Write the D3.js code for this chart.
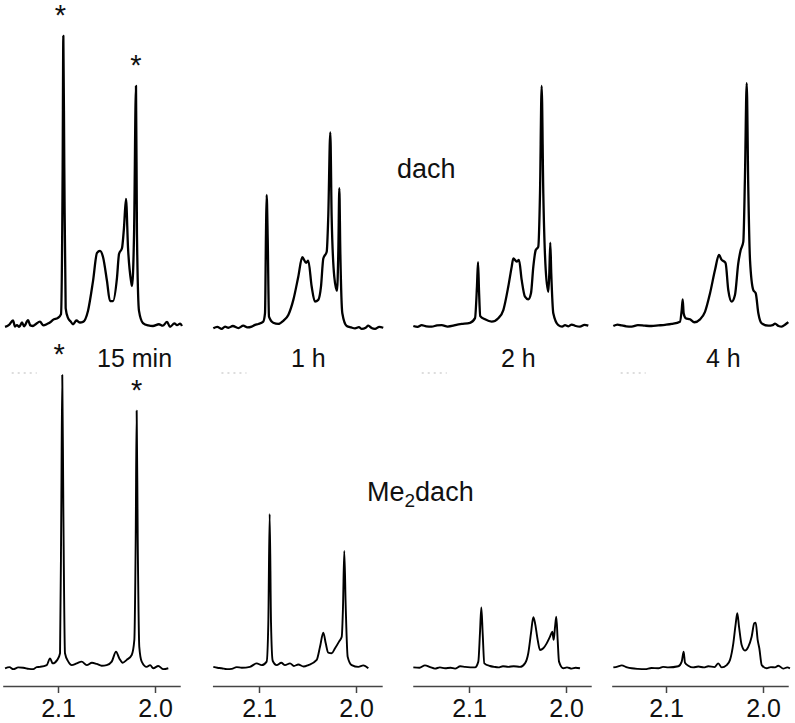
<!DOCTYPE html>
<html>
<head>
<meta charset="utf-8">
<script src="https://cdn.jsdelivr.net/npm/d3@7/dist/d3.min.js"></script>
<style>
  html, body { margin: 0; padding: 0; background: #fff; }
  svg { display: block; }
  text { font-family: "Liberation Sans", Arial, sans-serif; fill: #111; }
</style>
</head>
<body>
<div id="chart"></div>
<script>
// ---------------- DATA ----------------
const timeLabels = ["15 min", "1 h", "2 h", "4 h"];
const rowLabels = ["dach", "Me2dach"];
const tickValues = [2.1, 2.0];
const axisStart = [2.157, 2.148, 2.158, 2.156];   // ppm at left end of each axis
const axisEnd = [1.974, 1.973, 1.974, 1.974];     // ppm at right end of each axis

// dach row: [ppm, intensity]
const dach15min = [[2.1546,-0.3],[2.1505,0.4],[2.1464,1.9],[2.1443,-0.2],[2.1423,0.3],[2.1400,-0.3],[2.1371,1.2],[2.1350,-0.1],[2.1309,2.0],[2.1285,0.2],[2.1258,0],[2.1230,0.6],[2.1186,1.5],[2.1150,0.2],[2.1113,0.7],[2.1080,1.3],[2.1052,2.1],[2.1000,2.8],[2.0969,4.1],[2.0952,54.5],[2.0945,100],[2.0935,54.5],[2.0921,6.2],[2.0897,2.8],[2.0870,1.6],[2.0845,0.6],[2.0810,1.9],[2.0773,1.2],[2.0742,1.4],[2.0691,5.2],[2.0639,15.5],[2.0598,25.2],[2.0567,25.9],[2.0536,23.8],[2.0495,15.5],[2.0464,8.6],[2.0433,8.6],[2.0392,16.6],[2.0371,24.8],[2.0340,26.9],[2.0320,33.8],[2.0299,43.8],[2.0278,26.9],[2.0247,15.5],[2.0237,13.8],[2.0216,31.7],[2.0196,82.8],[2.0186,31.7],[2.0165,5.2],[2.0124,1.0],[2.0070,0.2],[2.0021,0],[1.9960,0.6],[1.9920,0.1],[1.9876,1.4],[1.9845,-0.3],[1.9800,0.9],[1.9773,0.3],[1.9740,0.8],[1.9722,0]];
const dach1h = [[2.1471,-0.8],[2.1430,-0.3],[2.1385,-1.0],[2.1350,-0.2],[2.1316,-0.6],[2.1270,0],[2.1213,-0.7],[2.1162,0.1],[2.1120,-0.5],[2.1075,-0.2],[2.1040,0.4],[2.1007,0.7],[2.0956,1.5],[2.0938,4.4],[2.0928,32.0],[2.0921,45.2],[2.0910,29.7],[2.0897,3.2],[2.0853,1.1],[2.0801,0.7],[2.0749,1.8],[2.0698,3.8],[2.0646,9.0],[2.0595,17.0],[2.0554,23.7],[2.0515,21.8],[2.0492,22.5],[2.0457,13.6],[2.0423,8.4],[2.0389,9.0],[2.0361,13.6],[2.0337,23.3],[2.0302,25.6],[2.0286,37.7],[2.0265,66.8],[2.0251,37.7],[2.0224,17.0],[2.0196,12.1],[2.0182,26.2],[2.0172,47.5],[2.0162,26.2],[2.0141,4.4],[2.0096,0],[2.0050,-0.5],[2.0010,-0.8],[1.9970,-0.4],[1.9941,-1.0],[1.9900,-0.6],[1.9873,0.1],[1.9840,-0.7],[1.9804,-1.0],[1.9760,-0.3],[1.9719,-0.6]];
const dach2h = [[2.1574,0],[2.1530,-0.3],[2.1488,0.3],[2.1440,-0.1],[2.1385,-0.2],[2.1330,0.2],[2.1281,0.3],[2.1220,-0.2],[2.1162,0.1],[2.1120,0.5],[2.1075,0.7],[2.0990,1.1],[2.0938,2.7],[2.0918,13.6],[2.0907,22.0],[2.0897,12.4],[2.0884,3.4],[2.0835,2.3],[2.0766,1.5],[2.0698,2.7],[2.0646,5.5],[2.0595,13.6],[2.0560,20.4],[2.0543,23.3],[2.0508,22.2],[2.0485,22.8],[2.0457,15.9],[2.0423,10.1],[2.0389,9.2],[2.0361,11.3],[2.0337,20.4],[2.0312,26.2],[2.0286,27.3],[2.0268,45.8],[2.0251,82.8],[2.0234,45.8],[2.0209,19.3],[2.0182,11.8],[2.0172,18.2],[2.0162,28.7],[2.0152,18.2],[2.0131,4.4],[2.0079,0.3],[2.0040,-0.2],[2.0010,0.3],[1.9975,-0.1],[1.9941,0.5],[1.9900,0],[1.9856,-0.2],[1.9810,0.4],[1.9770,0.1]];
const dach4h = [[2.1543,0],[2.1500,0.5],[2.1457,0.2],[2.1410,-0.1],[2.1354,-0.2],[2.1290,0.3],[2.1216,0.1],[2.1150,0],[2.1079,0.2],[2.1010,0.4],[2.0941,0.7],[2.0856,1.5],[2.0838,5.5],[2.0828,9.2],[2.0818,4.4],[2.0797,2.7],[2.0753,2.3],[2.0708,1.3],[2.0649,2.3],[2.0598,4.9],[2.0546,11.3],[2.0495,19.3],[2.0454,24.5],[2.0426,22.8],[2.0399,22.2],[2.0385,21.6],[2.0358,12.4],[2.0323,8.4],[2.0289,10.7],[2.0255,21.6],[2.0230,26.2],[2.0203,29.1],[2.0186,51.5],[2.0168,83.7],[2.0152,48.0],[2.0134,22.8],[2.0100,12.4],[2.0075,11.3],[2.0048,4.4],[2.0013,0.9],[1.9945,0.1],[1.9900,0.3],[1.9876,0.8],[1.9840,0],[1.9807,-0.2],[1.9770,0.5],[1.9739,1.3]];

// Me2dach row: [ppm, intensity]
const me15min = [[2.1546,-0.1],[2.1500,0.3],[2.1461,-0.4],[2.1410,0.2],[2.1358,0.1],[2.1300,-0.3],[2.1255,-0.4],[2.1220,0.3],[2.1186,0.4],[2.1116,1.0],[2.1082,3.3],[2.1055,1.6],[2.1007,2.8],[2.0979,5.1],[2.0966,55.6],[2.0956,101],[2.0945,55.6],[2.0928,5.1],[2.0894,2.2],[2.0859,1.0],[2.0807,1.6],[2.0756,2.2],[2.0704,1.0],[2.0650,1.8],[2.0601,1.4],[2.0550,0.8],[2.0498,1.0],[2.0446,2.2],[2.0402,5.6],[2.0368,3.3],[2.0333,1.8],[2.0292,2.8],[2.0240,4.5],[2.0213,9.7],[2.0199,44.1],[2.0189,88.7],[2.0178,44.1],[2.0162,7.3],[2.0137,2.2],[2.0086,0.4],[2.0050,1.0],[2.0018,-0.1],[1.9966,0.7],[1.9914,-0.4],[1.9863,-0.1]];
const me1h = [[2.1471,0.4],[2.1430,0.1],[2.1385,-0.1],[2.1330,-0.4],[2.1281,-0.3],[2.1230,0.3],[2.1178,0.1],[2.1093,0.4],[2.1024,1.6],[2.0972,1.0],[2.0921,2.2],[2.0904,15.4],[2.0890,53.1],[2.0876,15.4],[2.0859,2.5],[2.0818,1.0],[2.0770,1.8],[2.0732,1.0],[2.0680,1.6],[2.0640,0.7],[2.0595,1.2],[2.0540,0.5],[2.0492,1.0],[2.0405,2.8],[2.0371,7.3],[2.0337,12.2],[2.0312,8.5],[2.0286,5.3],[2.0251,5.1],[2.0216,6.8],[2.0175,9.1],[2.0147,10.8],[2.0134,21.1],[2.0121,40.4],[2.0106,21.1],[2.0086,3.9],[2.0044,1.0],[1.9976,0.4],[1.9925,0.9],[1.9873,-0.1]];
const me2h = [[2.1574,0.2],[2.1510,0.1],[2.1454,0.9],[2.1400,0.3],[2.1351,-0.2],[2.1300,0.2],[2.1247,-0.1],[2.1190,0.1],[2.1144,-0.2],[2.1090,0.6],[2.1041,0.4],[2.0938,0.2],[2.0904,2.2],[2.0887,12.0],[2.0873,20.9],[2.0859,12.0],[2.0842,1.6],[2.0784,0.7],[2.0740,0.4],[2.0698,0.2],[2.0650,0.6],[2.0595,0.4],[2.0540,0.6],[2.0474,0.4],[2.0423,1.6],[2.0389,5.1],[2.0361,12.0],[2.0337,17.5],[2.0320,15.6],[2.0292,9.7],[2.0268,6.2],[2.0234,6.8],[2.0199,8.5],[2.0165,10.8],[2.0141,12.5],[2.0127,9.7],[2.0113,14.2],[2.0100,17.7],[2.0086,9.7],[2.0072,2.2],[2.0028,-0.1],[1.9990,0.2],[1.9941,-0.2],[1.9900,0.1],[1.9856,-0.1]];
const me4h = [[2.1543,0.2],[2.1500,0.5],[2.1457,0.9],[2.1400,0.2],[2.1354,-0.1],[2.1290,-0.3],[2.1216,-0.4],[2.1150,0],[2.1079,-0.1],[2.1030,0.4],[2.0976,0.2],[2.0873,0.6],[2.0838,2.2],[2.0818,5.6],[2.0804,1.8],[2.0770,0.8],[2.0720,0.2],[2.0667,0.5],[2.0610,0.2],[2.0564,0.6],[2.0500,0.3],[2.0461,1.6],[2.0426,0.2],[2.0374,1.0],[2.0340,2.8],[2.0306,8.5],[2.0281,15.4],[2.0265,18.9],[2.0247,14.2],[2.0220,7.9],[2.0186,6.0],[2.0152,7.3],[2.0117,10.8],[2.0090,15.4],[2.0075,15.6],[2.0055,9.7],[2.0038,6.8],[2.0013,1.0],[1.9962,-0.1],[1.9920,0.3],[1.9876,0.2],[1.9842,0.8],[1.9791,-0.2],[1.9750,0.2],[1.9722,-0.1]];

// asterisk-marked peaks: [row, panel, ppm, intensity]
const starredPeaks = [[0,0,2.0945,100],[0,0,2.0196,82.8],[1,0,2.0956,101],[1,0,2.0189,88.7]];

const spectra = [[dach15min, dach1h, dach2h, dach4h], [me15min, me1h, me2h, me4h]];

// ---------------- LAYOUT ----------------
const W = 795, H = 723;
const tick21X = [58, 259, 469, 666];   // pixel of 2.1 ppm in each column
const pxPerTenth = 97;
const rowBase = [326, 668];
const rowTop = [36, 378];
const axisY = 686;

const svg = d3.select("#chart").append("svg").attr("width", W).attr("height", H);

const xScales = tick21X.map(x0 => d3.scaleLinear().domain([2.1, 2.0]).range([x0, x0 + pxPerTenth]));
const yScales = rowBase.map((b, r) => d3.scaleLinear().domain([0, 100]).range([b, rowTop[r]]));

// spectra
spectra.forEach((row, r) => {
  row.forEach((data, c) => {
    const x = xScales[c], y = yScales[r];
    const line = d3.line().x(d => x(d[0])).y(d => y(d[1])).curve(d3.curveMonotoneX);
    svg.append("path")
      .datum(data)
      .attr("d", line)
      .attr("fill", "none")
      .attr("stroke", "#000")
      .attr("stroke-width", r === 0 ? 2.3 : 1.9)
      .attr("stroke-linejoin", "round");
  });
});

// axes
xScales.forEach((x, c) => {
  const sc = d3.scaleLinear().domain([axisStart[c], axisEnd[c]]).range([x(axisStart[c]), x(axisEnd[c])]);
  const ax = d3.axisBottom(sc).tickValues(tickValues).tickFormat(d3.format(".1f")).tickSize(7).tickSizeOuter(0).tickPadding(6);
  const g = svg.append("g").attr("transform", `translate(0,${axisY})`).call(ax);
  g.attr("font-size", 25).attr("font-family", "'Liberation Sans', Arial, sans-serif");
  g.select(".domain").attr("stroke", "#444").attr("stroke-width", 1.5);
  g.selectAll(".tick line").attr("stroke", "#444").attr("stroke-width", 1.5);
  g.selectAll(".tick text").attr("font-size", 25).style("font-size", "25px").attr("fill", "#111");
});

// faint remnants of a cut axis between rows
xScales.forEach((x, c) => {
  svg.append("line")
    .attr("x1", x(axisStart[c]) + 9).attr("x2", x(axisStart[c]) + 34)
    .attr("y1", 373).attr("y2", 373)
    .attr("stroke", "#bbb").attr("stroke-width", 1).attr("stroke-dasharray", "2,4");
});

// asterisks
starredPeaks.forEach(([r, c, ppm, v]) => {
  const px = xScales[c](ppm), py = yScales[r](v);
  svg.append("text")
    .attr("x", px - 3 + (v < 95 ? 3 : 0))
    .attr("y", py - 11)
    .attr("text-anchor", "middle")
    .attr("font-size", 29)
    .text("*");
});

// time labels
const timeX = [97, 291, 501, 706];
timeLabels.forEach((t, c) => {
  svg.append("text").attr("x", timeX[c]).attr("y", 367).attr("font-size", 25).text(t);
});

// row labels
svg.append("text").attr("x", 397).attr("y", 178).attr("font-size", 27).text(rowLabels[0]);
const me = svg.append("text").attr("x", 367).attr("y", 501).attr("font-size", 27);
me.append("tspan").text("Me");
me.append("tspan").attr("font-size", 19).attr("dy", 6).text("2");
me.append("tspan").attr("dy", -6).text("dach");
</script>
</body>
</html>
